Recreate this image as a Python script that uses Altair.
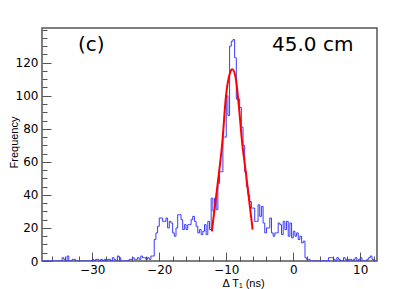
import altair as alt
import pandas as pd

# histogram: 200 bins of 0.25 ns starting at -37.5 ns
bin_start = -37.5
bin_width = 0.25
counts = [
    0, 0, 0, 0, 0, 0, 0, 0, 0, 0,
    0, 0, 2, 1, 0, 3, 0, 0, 1, 1,
    0, 0, 0, 0, 0, 0, 0, 0, 0, 0,
    1, 0, 1, 1, 0, 1, 0, 1, 0, 1,
    1, 0, 2, 1, 0, 3, 2, 0, 0, 0,
    0, 0, 1, 1, 2, 1, 1, 2, 1, 3,
    2, 2, 1, 2, 1, 3, 3, 13, 17, 21,
    26, 26, 24, 24, 26, 20, 24, 23, 17, 15,
    20, 28, 28, 25, 19, 22, 19, 22, 22, 25,
    27, 24, 21, 17, 19, 16, 18, 22, 16, 24,
    19, 38, 30, 38, 31, 47, 54, 54, 75, 75,
    100, 88, 130, 133, 134, 123, 98, 98, 93, 81,
    70, 54, 45, 40, 36, 32, 32, 24, 24, 34,
    27, 33, 23, 17, 20, 20, 26, 17, 15, 17,
    17, 23, 22, 16, 24, 19, 24, 15, 23, 14,
    18, 15, 17, 13, 15, 11, 12, 2, 1, 1,
    0, 0, 0, 0, 0, 0, 0, 0, 0, 0,
    0, 2, 2, 2, 1, 0, 2, 1, 0, 0,
    2, 1, 0, 1, 1, 0, 1, 2, 0, 1,
    2, 0, 0, 0, 1, 2, 3, 1, 0, 0,
]

# gaussian fit curve
fit_x = [-12.15, -11.3, -10.56, -10.06, -9.5, -9.1, -8.6, -8.1, -7.66, -7.06, -6.06]
fit_y = [18, 46, 73, 99, 113, 116, 111, 93, 73, 53, 19]

x_major = [-30, -20, -10, 0, 10]
x_minor = [-36, -34, -32, -28, -26, -24, -22, -18, -16, -14, -12,
           -8, -6, -4, -2, 2, 4, 6, 8, 12]
y_major = [0, 20, 40, 60, 80, 100, 120]
y_minor = [5, 10, 15, 25, 30, 35, 45, 50, 55, 65, 70, 75, 85, 90, 95,
           105, 110, 115, 125, 130, 135, 140]

labels_text = ["(c)", "45.0 cm"]

edges = [bin_start + bin_width * i for i in range(len(counts) + 1)]
hist = pd.DataFrame({"x": edges, "n": counts + [counts[-1]]})
fit = pd.DataFrame({"x": fit_x, "y": fit_y})

xscale = alt.Scale(domain=[-37.5, 12.5], nice=False, zero=False)
yscale = alt.Scale(domain=[0, 141], nice=False)

common = dict(domain=False, grid=False, tickColor="#555", tickWidth=1,
              labelFont="DejaVu Sans", labelFontSize=12, labelColor="black",
              labelFlush=False, labelOverlap=False)

xaxis_major = alt.Axis(
    values=x_major, orient="bottom", tickSize=alt.ExprRef("-9"), labelPadding=12,
    title="Δ T₁ (ns)", titleFont="Liberation Sans", titleFontSize=11,
    titleFontWeight="normal", titleColor="black",
    titleX=201, titleY=16, titleBaseline="top", titleAlign="center", **common,
)
yaxis_major = alt.Axis(
    values=y_major, orient="left", tickSize=alt.ExprRef("-9"), labelPadding=13,
    title="Frequency", titleFont="Liberation Sans", titleFontSize=11,
    titleFontWeight="normal", titleColor="black",
    titleX=-28, titleY=114, titleBaseline="middle", titleAlign="center", titleAngle=270,
    **common,
)
xaxis_minor = alt.Axis(values=x_minor, orient="bottom", tickSize=alt.ExprRef("-5"),
                       labels=False, title=None, domain=False, grid=False,
                       tickColor="#555", tickWidth=1)
yaxis_minor = alt.Axis(values=y_minor, orient="left", tickSize=alt.ExprRef("-5"),
                       labels=False, title=None, domain=False, grid=False,
                       tickColor="#555", tickWidth=1)

hist_line = alt.Chart(hist).mark_line(
    interpolate="step-after", color="#3a3aff", strokeWidth=1, clip=True
).encode(
    x=alt.X("x:Q", scale=xscale, axis=xaxis_major),
    y=alt.Y("n:Q", scale=yscale, axis=yaxis_major),
)

fit_line = alt.Chart(fit).mark_line(
    interpolate="monotone", color="#ff0000", strokeWidth=2
).encode(
    x=alt.X("x:Q", scale=xscale, axis=xaxis_minor),
    y=alt.Y("y:Q", scale=yscale, axis=yaxis_minor),
)

tdf = pd.DataFrame({"t": labels_text, "px": [36, 230]})
texts = alt.Chart(tdf).mark_text(
    font="DejaVu Sans", fontSize=20, align="left", baseline="alphabetic", color="black"
).encode(
    x=alt.X("px:Q", scale=None),
    y=alt.value(23),
    text="t:N",
)

chart = alt.layer(hist_line, fit_line, texts).resolve_axis(
    x="independent", y="independent"
).properties(
    width=335, height=233,
    autosize=alt.AutoSizeParams(type="none"),
    padding={"left": 34, "top": 20, "right": 27, "bottom": 32},
).configure_view(stroke="#555", strokeWidth=1.5)

chart.save("out.html", embed_options={"renderer": "svg", "actions": False})
